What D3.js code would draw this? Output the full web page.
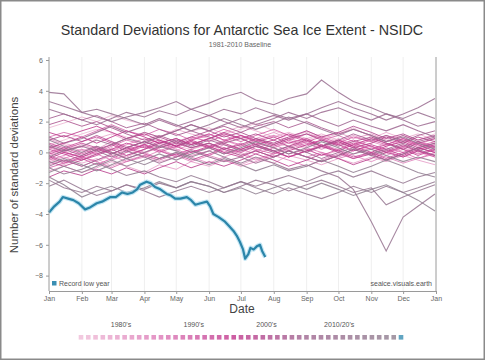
<!DOCTYPE html>
<html>
<head>
<meta charset="utf-8">
<script src="https://cdn.jsdelivr.net/npm/d3@7"></script>
<style>
  html, body { margin: 0; padding: 0; background: #fff; }
  svg { display: block; font-family: "Liberation Sans", Arial, sans-serif; }
</style>
</head>
<body>
<svg id="chart" width="485" height="360"></svg>
<script>
// ---------------- DATA ----------------
const title = "Standard Deviations for Antarctic Sea Ice Extent - NSIDC";
const subtitle = "1981-2010 Baseline";
const monthLabels = ["Jan","Feb","Mar","Apr","May","Jun","Jul","Aug","Sep","Oct","Nov","Dec","Jan"];
const monthStartDays = [0,31,59,90,120,151,181,212,243,273,304,334,365];
const yTicks = [-8,-6,-4,-2,0,2,4,6];
const decadeLabels = ["1980's","1990's","2000's","2010/20's"];
const decadeCenterYears = [1984.5,1994.5,2004.5,2014.5];

// sample days: 1st and 15th of each month, plus Dec 31
const sampleDays = [0,14,31,45,59,73,90,104,120,134,151,165,181,195,212,226,243,257,273,287,304,318,334,348,364];

const years = d3.range(1979, 2023);
const series = [
/*1979*/ [0.5,0.8,1.2,1.5,1.3,1.0,0.6,0.9,0.4,0.2,0.5,0.1,-0.2,0.3,0.6,0.4,0.8,1.1,0.7,0.3,0.6,0.9,0.5,0.2,0.4],
/*1980*/ [1.6,1.9,2.3,2.0,2.4,2.1,1.8,2.2,1.7,1.4,1.6,1.2,1.5,1.9,1.4,1.1,1.3,0.9,1.2,1.6,1.0,0.7,1.1,0.8,1.2],
/*1981*/ [-0.4,-0.8,-0.3,-0.6,-0.2,0.2,-0.1,0.4,0.8,0.5,0.9,0.6,1.0,0.7,0.3,0.6,0.2,-0.2,0.1,0.5,0.2,-0.1,0.3,0.0,-0.3],
/*1982*/ [0.2,0.6,0.3,0.9,1.2,0.8,1.3,1.0,1.5,1.2,0.9,1.3,1.7,1.4,1.0,1.3,0.9,1.2,0.8,0.5,0.9,1.3,0.9,1.2,0.8],
/*1983*/ [-0.6,-0.3,-0.7,-0.4,-0.9,-0.5,-0.2,-0.6,-0.3,0.1,-0.2,0.3,0.0,-0.4,-0.1,0.3,0.0,0.4,0.9,0.5,0.2,0.6,0.3,-0.1,0.2],
/*1984*/ [-1.2,-0.9,-1.3,-1.0,-0.6,-0.9,-1.3,-0.8,-1.1,-0.6,-0.9,-0.5,-0.8,-0.4,-0.7,-0.2,-0.5,-0.8,-0.4,-0.7,-0.3,-0.6,-0.2,-0.5,-0.8],
/*1985*/ [0.9,0.5,0.1,0.4,0.0,-0.3,0.2,0.5,0.1,0.6,0.3,0.8,0.4,0.9,1.3,0.9,1.4,1.0,1.3,0.9,1.2,0.8,0.4,0.7,0.3],
/*1986*/ [-0.2,0.1,-0.4,-0.1,0.3,0.0,0.5,0.2,-0.2,0.2,0.6,0.3,-0.1,-0.5,-0.1,0.2,0.6,0.3,0.7,1.1,0.7,0.4,0.8,0.5,0.9],
/*1987*/ [0.3,0.0,0.5,0.2,0.7,0.4,0.0,-0.4,0.0,-0.3,-0.7,-0.3,0.1,0.4,0.0,-0.3,0.1,0.5,0.2,-0.2,-0.6,-0.2,0.2,-0.1,0.3],
/*1988*/ [-0.8,-0.5,-0.9,-0.5,-0.2,-0.6,-0.3,0.1,-0.2,-0.6,-0.2,-0.5,-0.9,-0.6,-0.2,-0.5,-0.9,-0.5,-0.1,-0.4,0.0,-0.3,-0.7,-0.4,-0.1],
/*1989*/ [0.0,-0.4,0.0,0.4,0.1,0.5,0.9,0.6,0.2,-0.2,0.1,0.5,0.2,-0.1,0.3,0.7,0.3,0.0,-0.3,0.1,0.4,0.1,-0.3,0.1,-0.2],
/*1990*/ [-0.5,-0.2,0.2,-0.1,-0.5,-0.2,0.2,0.6,0.3,0.7,0.4,0.0,0.4,0.8,0.5,0.1,-0.3,0.0,-0.4,-0.1,0.3,0.0,0.4,0.7,0.3],
/*1991*/ [0.4,0.0,-0.3,0.0,0.4,0.8,0.5,0.1,0.5,0.9,1.2,0.8,0.5,0.1,0.5,0.9,0.6,0.2,0.6,0.3,-0.1,0.3,0.0,-0.4,0.0],
/*1992*/ [1.0,1.3,1.0,1.4,1.8,1.4,1.1,1.5,1.2,0.8,1.1,1.5,1.1,0.8,1.1,0.8,0.4,0.8,1.1,0.7,0.4,0.0,0.3,0.7,0.4],
/*1993*/ [-1.0,-0.7,-0.3,-0.6,-1.0,-0.6,-0.2,-0.5,-0.1,0.2,-0.2,0.2,0.6,0.2,-0.1,0.3,0.7,0.4,0.8,0.4,0.8,0.5,0.9,0.6,0.3],
/*1994*/ [0.0,0.3,-0.1,0.3,0.0,-0.4,0.0,0.3,0.7,1.0,0.7,1.1,0.7,1.1,1.5,1.1,0.7,1.0,0.6,1.0,0.7,1.1,0.8,0.4,0.7],
/*1995*/ [-0.3,-0.7,-0.4,-0.8,-0.4,0.0,0.4,0.0,0.4,0.8,1.2,0.8,1.1,0.8,0.4,0.8,1.2,0.9,0.5,0.8,0.4,0.0,0.4,0.1,-0.3],
/*1996*/ [0.6,0.3,0.7,1.0,0.6,0.2,0.5,0.1,-0.3,0.0,0.3,-0.1,0.2,0.6,0.3,-0.1,0.2,-0.2,0.2,0.6,0.2,0.5,0.9,0.5,0.1],
/*1997*/ [-0.1,0.2,0.6,0.3,-0.1,0.3,-0.1,-0.4,-0.1,-0.5,-0.1,0.3,0.0,0.4,0.1,-0.3,0.1,0.4,0.1,-0.3,0.0,-0.4,0.0,0.3,0.0],
/*1998*/ [0.2,-0.1,-0.5,-0.2,0.2,0.6,0.3,0.7,0.4,0.0,0.4,0.7,1.1,0.7,1.0,0.6,0.9,0.5,0.1,0.5,0.9,0.6,0.2,-0.2,0.2],
/*1999*/ [-0.4,0.0,-0.3,0.1,0.5,0.1,0.5,0.8,0.4,0.8,0.4,0.0,-0.3,0.1,-0.3,0.1,0.5,0.8,0.5,0.1,0.5,0.2,-0.2,0.2,0.5],
/*2000*/ [0.3,0.6,1.0,0.6,1.0,1.4,1.0,0.6,0.9,0.5,0.9,1.2,0.9,0.5,0.8,1.2,0.8,0.4,0.8,0.4,0.0,0.4,0.7,0.3,0.6],
/*2001*/ [1.3,1.0,1.4,1.7,1.3,0.9,1.2,0.8,0.4,0.7,0.3,0.6,0.2,0.5,0.1,-0.3,0.1,0.4,0.0,-0.4,-0.1,-0.5,-0.1,0.3,0.0],
/*2002*/ [-1.6,-1.2,-1.5,-1.1,-1.4,-1.0,-1.4,-1.0,-0.6,-1.0,-0.6,-0.9,-0.5,-0.1,-0.5,-0.9,-0.5,-0.1,-0.4,-0.8,-0.4,0.0,-0.3,0.1,-0.2],
/*2003*/ [-0.6,-0.9,-0.5,-0.1,0.2,-0.2,0.2,0.6,0.9,0.5,0.9,1.3,0.9,1.2,0.8,0.4,0.8,0.4,0.7,0.3,0.6,1.0,0.6,1.0,0.7],
/*2004*/ [0.8,1.1,0.7,1.1,0.7,0.3,0.7,1.0,0.6,0.3,0.6,0.2,0.5,0.9,0.6,1.0,1.4,1.0,1.3,1.7,1.3,0.9,1.2,0.8,1.1],
/*2005*/ [-0.2,-0.6,-0.2,0.2,-0.1,0.3,0.7,0.3,0.6,1.0,1.4,1.0,1.3,0.9,0.5,0.9,1.2,0.8,0.4,0.7,1.0,0.6,0.2,0.6,0.9],
/*2006*/ [1.8,2.1,1.7,2.0,1.6,1.2,0.8,1.1,0.7,0.3,0.6,0.2,-0.2,0.1,-0.3,0.1,-0.3,-0.6,-0.2,0.2,-0.2,0.1,0.5,0.1,0.4],
/*2007*/ [0.5,0.2,-0.2,0.2,0.5,0.9,1.3,1.0,1.4,1.8,1.4,1.7,1.3,1.7,2.0,1.6,2.0,1.6,1.2,1.5,1.1,0.7,1.1,0.7,1.0],
/*2008*/ [2.2,2.5,2.1,2.4,2.0,1.6,1.9,1.5,1.1,1.4,1.0,0.6,0.9,0.5,0.1,0.4,0.0,0.4,0.8,1.2,0.8,1.1,0.7,1.1,1.4],
/*2009*/ [-0.9,-0.5,-0.9,-0.5,-0.1,0.3,0.7,0.4,0.8,0.4,0.8,0.5,0.1,0.4,0.0,0.4,0.0,-0.4,0.0,0.3,-0.1,0.2,0.6,0.2,-0.2],
/*2010*/ [1.0,0.6,0.9,1.3,1.7,1.3,1.7,2.1,1.7,2.0,2.4,2.0,1.6,2.0,2.4,2.1,2.5,2.1,1.7,2.1,1.7,1.4,1.8,1.4,1.0],
/*2011*/ [-0.3,0.1,0.4,0.1,-0.3,0.1,-0.3,-0.7,-0.3,0.1,-0.3,-0.6,-0.3,-0.7,-0.3,0.1,-0.3,-0.6,-0.2,0.2,-0.2,-0.5,-0.1,0.3,0.6],
/*2012*/ [0.4,0.1,0.4,0.8,0.5,0.9,0.6,1.0,1.4,1.8,1.4,1.8,2.2,1.8,2.2,2.6,2.2,2.6,2.9,2.5,2.1,2.5,2.1,1.7,2.0],
/*2013*/ [2.8,2.5,2.1,1.8,2.2,2.6,2.3,2.7,2.4,2.8,2.4,2.8,2.5,2.9,2.5,2.2,2.5,2.9,3.3,2.9,2.5,2.1,2.5,2.9,3.5],
/*2014*/ [3.3,3.0,2.6,2.3,2.0,2.3,2.6,2.9,3.3,2.8,3.2,3.6,3.9,3.4,3.1,3.5,3.8,4.7,3.9,3.3,2.9,2.5,2.2,2.6,2.2],
/*2015*/ [3.9,3.8,2.6,2.8,2.5,2.2,1.8,2.2,1.8,1.4,1.8,2.2,1.8,1.5,1.9,2.3,1.9,1.5,1.1,1.5,1.1,0.7,1.0,0.6,0.2],
/*2016*/ [0.8,0.4,0.0,0.4,0.0,-0.4,0.0,0.4,0.1,-0.3,0.1,-0.3,-0.7,-0.3,-0.7,-1.1,-0.8,-1.2,-1.6,-2.4,-4.5,-6.4,-4.2,-3.5,-2.7],
/*2017*/ [-1.8,-2.3,-2.6,-2.2,-2.5,-2.1,-2.4,-2.0,-2.3,-1.9,-2.2,-2.6,-2.2,-1.8,-2.1,-2.5,-2.1,-1.8,-2.2,-2.6,-2.3,-3.4,-2.9,-2.5,-2.1],
/*2018*/ [-2.2,-1.8,-2.4,-2.8,-2.5,-2.1,-2.5,-2.9,-2.5,-2.2,-2.6,-2.3,-1.9,-2.2,-1.8,-1.5,-1.9,-1.5,-1.2,-1.6,-1.2,-1.6,-2.0,-1.6,-1.3],
/*2019*/ [-1.0,-1.4,-1.1,-0.7,-1.1,-1.5,-1.2,-1.6,-1.9,-1.5,-1.9,-2.3,-1.9,-2.3,-2.7,-2.3,-2.7,-3.0,-2.6,-2.2,-2.6,-2.2,-2.6,-2.3,-1.9],
/*2020*/ [-1.3,-0.9,-1.3,-0.9,-0.5,-0.9,-0.5,-0.1,-0.5,-0.1,0.3,-0.1,0.3,0.7,0.3,-0.1,0.3,0.7,0.3,-0.1,0.2,-0.2,-0.6,-0.3,-0.6],
/*2021*/ [-0.7,-0.4,-0.8,-1.2,-0.8,-0.4,-0.8,-0.4,0.0,-0.4,-0.8,-0.4,-0.8,-1.2,-0.8,-1.2,-0.9,-0.5,-0.9,-1.3,-0.9,-0.5,-0.9,-1.3,-1.6],
/*2022*/ [-1.6,-2.1,-2.9,-2.5,-2.2,-2.6,-2.3,-1.9,-2.3,-1.9,-2.2,-2.6,-2.3,-2.7,-2.3,-2.0,-2.4,-2.0,-2.4,-2.8,-2.4,-2.1,-2.6,-3.1,-3.8]
];

// 2023 record low year (partial)
const recordYear = 2023;
const recordDays = [0,5,10,13,18,23,28,34,38,45,50,58,63,69,74,79,83,86,92,96,100,105,111,115,119,124,130,134,138,143,149,152,155,160,166,170,174,177,180,183,185,188,190,193,196,199,201,204];
const recordValues = [-3.9,-3.5,-3.2,-2.9,-3.0,-3.1,-3.3,-3.7,-3.6,-3.3,-3.2,-2.9,-2.9,-2.6,-2.7,-2.6,-2.4,-2.1,-1.9,-2.0,-2.25,-2.4,-2.7,-2.8,-3.0,-3.0,-2.9,-3.1,-3.4,-3.3,-3.2,-3.5,-4.0,-4.2,-4.5,-4.8,-5.1,-5.4,-5.8,-6.3,-6.9,-6.6,-6.2,-6.3,-6.1,-6.0,-6.4,-6.8];

// ---------------- CHART ----------------
const svg = d3.select("#chart");
const W = 485, H = 360;
const plot = { left: 49, right: 436, top: 57, bottom: 291 };

svg.append("rect").attr("x", 0.75).attr("y", 0.75).attr("width", W - 1.5).attr("height", H - 1.5)
  .attr("fill", "#fff").attr("stroke", "#8a8a8a").attr("stroke-width", 1.5);

const x = d3.scaleLinear().domain([0, 365]).range([plot.left, plot.right]);
const y = d3.scaleLinear().domain([-9, 6]).range([plot.bottom, 60]);

const colorScale = d3.scaleLinear()
  .domain([1979, 1990, 2000, 2010, 2022])
  .range(["#efbcd7", "#dc78b6", "#c0368c", "#9e6690", "#8f7f90"])
  .interpolate(d3.interpolateRgb);

// gridlines
svg.append("g").selectAll("line").data(monthStartDays.slice(1, -1)).join("line")
  .attr("x1", d => x(d)).attr("x2", d => x(d))
  .attr("y1", plot.top).attr("y2", plot.bottom)
  .attr("stroke", "#efefef").attr("stroke-width", 1);

// lines
const line = d3.line().x(d => x(d[0])).y(d => y(d[1])).curve(d3.curveLinear);
const linesG = svg.append("g");
years.forEach((yr, i) => {
  const pts = sampleDays.map((dd, j) => [dd, series[i][j]]);
  linesG.append("path").datum(pts)
    .attr("d", line)
    .attr("fill", "none")
    .attr("stroke", colorScale(yr))
    .attr("stroke-opacity", 0.85)
    .attr("stroke-width", yr >= 2010 ? 1.1 : 1);
});

// record line
const recPts = recordDays.map((dd, j) => [dd, recordValues[j]]);
svg.append("path").datum(recPts).attr("d", line)
  .attr("fill", "none").attr("stroke", "#a9dcef").attr("stroke-width", 4.5).attr("stroke-opacity", 0.7)
  .attr("stroke-linejoin", "round");
svg.append("path").datum(recPts).attr("d", line)
  .attr("fill", "none").attr("stroke", "#2b85a9").attr("stroke-width", 2.2)
  .attr("stroke-linejoin", "round");

// axes
const yAxis = d3.axisLeft(y).tickValues(yTicks).tickSize(3).tickPadding(3);
const yg = svg.append("g").attr("transform", `translate(${plot.left},0)`).call(yAxis);
yg.select(".domain").attr("d", `M0,${plot.top}V${plot.bottom}`);
const xAxis = d3.axisBottom(x).tickValues(monthStartDays).tickFormat((d, i) => monthLabels[i]).tickSize(3).tickPadding(2);
const xg = svg.append("g").attr("transform", `translate(0,${plot.bottom})`).call(xAxis);
[yg, xg].forEach(g => {
  g.select(".domain").attr("stroke", "#9a9a9a");
  g.selectAll(".tick line").attr("stroke", "#9a9a9a");
  g.selectAll(".tick text").attr("fill", "#666").style("font-size", "7px")
    .style("font-family", "'Liberation Sans', Arial, sans-serif");
});
// right border line
svg.append("line").attr("x1", plot.right).attr("x2", plot.right)
  .attr("y1", plot.top).attr("y2", plot.bottom).attr("stroke", "#9a9a9a");

// titles
svg.append("text").attr("x", 242).attr("y", 35).attr("text-anchor", "middle")
  .style("font-size", "14.3px").attr("fill", "#333").text(title);
svg.append("text").attr("x", 240).attr("y", 47).attr("text-anchor", "middle")
  .style("font-size", "7px").attr("fill", "#666").text(subtitle);
svg.append("text").attr("transform", `translate(18,175) rotate(-90)`).attr("text-anchor", "middle")
  .style("font-size", "11.5px").attr("fill", "#444").text("Number of standard deviations");
svg.append("text").attr("x", 242).attr("y", 313).attr("text-anchor", "middle")
  .style("font-size", "12px").attr("fill", "#444").text("Date");

// in-plot legend
svg.append("rect").attr("x", 52).attr("y", 281).attr("width", 4.5).attr("height", 4.5).attr("fill", "#3a8fb3");
svg.append("text").attr("x", 59).attr("y", 286).style("font-size", "7px").attr("fill", "#555").text("Record low year");
svg.append("text").attr("x", 432).attr("y", 286).attr("text-anchor", "end")
  .style("font-size", "7px").attr("fill", "#555").text("seaice.visuals.earth");

// year legend
const allYears = years.concat([recordYear]);
const lx = d3.scaleLinear().domain([1979, 2023]).range([81, 401]);
svg.append("g").selectAll("rect").data(allYears).join("rect")
  .attr("x", d => lx(d) - 2.3).attr("y", 335).attr("width", 4.6).attr("height", 4.6)
  .attr("fill", d => d === recordYear ? "#3a8fb3" : colorScale(d)).attr("fill-opacity", 0.8);
svg.append("g").selectAll("text").data(decadeLabels).join("text")
  .attr("x", (d, i) => lx(decadeCenterYears[i])).attr("y", 327).attr("text-anchor", "middle")
  .style("font-size", "7px").attr("fill", "#555").text(d => d);
</script>
</body>
</html>
